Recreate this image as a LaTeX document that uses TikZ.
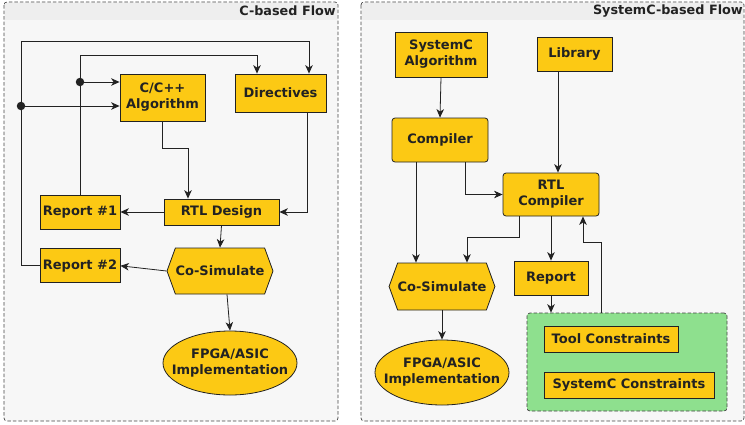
\documentclass[tikz,border=0pt]{standalone}
\usepackage{fontspec}
\setmainfont{DejaVu Sans}
\usepackage{tikz}
\usetikzlibrary{shapes.geometric, shapes.symbols, arrows.meta, positioning}
\definecolor{nodeyellow}{RGB}{252,201,20}
\definecolor{boxgreen}{RGB}{142,224,142}
\definecolor{panelbg}{RGB}{247,247,247}
\definecolor{headbg}{RGB}{238,238,238}
\definecolor{ink}{RGB}{34,34,34}
\tikzstyle{block} = [rectangle, 
			draw=ink, 
			fill=nodeyellow, 
			text centered, 
			align=center, 
			inner sep=0pt, 
			line width=0.8pt, 
			text=ink, 
			font=\fontsize{13}{16}\selectfont\bfseries]
\tikzstyle{rblock} = [block, 
			rounded corners=3pt]
\tikzstyle{hexa} = [block, 
			signal, 
			signal to=east and west, 
			signal pointer angle=140]
\tikzstyle{ellip} = [block, 
			ellipse, 
			inner xsep=-11pt]
\tikzstyle{dot} = [circle, 
			fill=ink, 
			inner sep=0pt, 
			minimum size=8.5pt]
\tikzstyle{line} = [draw=ink, 
			line width=0.8pt]
\tikzstyle{arrow} = [line, 
			-{Stealth[length=8.5pt,width=7.5pt,inset=2.5pt]}]
\tikzstyle{panel} = [draw=ink!85, 
			dash pattern=on 3.5pt off 2pt, 
			fill=panelbg, 
			rounded corners=3pt, 
			line width=0.7pt]
\tikzstyle{title} = [anchor=east, 
			text=ink, 
			inner sep=1pt, 
			font=\fontsize{12.8}{14}\selectfont\bfseries]

\begin{document}
\begin{tikzpicture}[x=1pt, y=-1pt]
	\useasboundingbox (0,0) rectangle (745,424);
	% panels
	\draw [panel] (4,2) rectangle (338,421);
	\fill [headbg] (5,3) rectangle (337,20);
	\node [title] (ctitle) at (337,11) {C-based Flow};
	\draw [panel] (361,2) rectangle (744,421);
	\fill [headbg] (362,3) rectangle (743,20);
	\node [title] (sctitle) at (744,11) {SystemC-based Flow};

	% C-based flow
	\node [block, minimum width=85pt, minimum height=47pt] (calg) at (162.5,97.5) {C/C++\\Algorithm};
	\node [block, minimum width=91pt, minimum height=38pt] (dir) at (280.5,93) {Directives};
	\node [block, minimum width=115pt, minimum height=26pt] (rtl) at (221.5,212) {RTL Design};
	\node [block, minimum width=80pt, minimum height=34pt] (rep1) at (80,212) {Report \#1};
	\node [block, minimum width=80pt, minimum height=34pt, below=19pt of rep1] (rep2) {Report \#2};
	\node [hexa, minimum width=106pt, minimum height=46pt] (csim1) at (220,271) {Co-Simulate};
	\node [ellip, minimum width=134pt, minimum height=64pt] (fpga1) at (230,363) {FPGA/ASIC\\Implementation};
	\node [dot] (dot1) at (21,106) {};
	\node [dot] (dot2) at (80,82) {};

	\draw [arrow] (rep2.west) -| (dot1) |- (21,41) -| ([xshift=28.5pt]dir.north);
	\draw [arrow] (rep1.north) -- (rep1.north |- 0,55) -| ([xshift=-23.5pt]dir.north);
	\draw [arrow] (dot1) -- (calg.west |- dot1);
	\draw [arrow] (dot2) -- (calg.west |- dot2);
	\draw [arrow] (calg.south) -- ++(0,27) -| ([xshift=-33.5pt]rtl.north);
	\draw [arrow] ([xshift=26.5pt]dir.south) |- (rtl.east);
	\draw [arrow] (rtl.west) -- (rep1.east);
	\draw [arrow] (rtl.south) -- (csim1.north);
	\draw [arrow] (csim1.west) -- (rep2.east);
	\draw [arrow] ([xshift=7pt]csim1.south) -- (fpga1.north);

	% SystemC-based flow
	\node [block, minimum width=92pt, minimum height=45pt] (scalg) at (441,54.5) {SystemC\\Algorithm};
	\node [block, minimum width=75pt, minimum height=34pt] (lib) at (574.5,54) {Library};
	\node [rblock, minimum width=96pt, minimum height=44pt] (comp) at (440,140) {Compiler};
	\node [rblock, minimum width=96pt, minimum height=43pt] (rtlc) at (551,194.5) {RTL\\Compiler};
	\node [hexa, minimum width=104pt, minimum height=47pt] (csim2) at (442,286.5) {Co-Simulate};
	\node [block, minimum width=74pt, minimum height=34pt] (rep) at (551,278) {Report};
	\node [ellip, minimum width=134pt, minimum height=65pt] (fpga2) at (442,372.5) {FPGA/ASIC\\Implementation};
	\node [panel, fill=boxgreen, minimum width=200pt, minimum height=98pt] (cbox) at (627,362) {};
	\node [block, minimum width=134pt, minimum height=26pt] (toolc) at (611,339) {Tool Constraints};
	\node [block, minimum width=170pt, minimum height=26pt] (scc) at (629,385) {SystemC Constraints};

	\draw [arrow] (scalg.south) -- (comp.north);
	\draw [arrow] ([xshift=-16.5pt]lib.south) -- ([xshift=-16.5pt]lib.south |- rtlc.north);
	\draw [arrow] ([xshift=25pt]comp.south) |- (rtlc.west);
	\draw [arrow] ([xshift=-24pt]comp.south) -- ([xshift=-24pt]comp.south |- csim2.north);
	\draw [arrow] ([xshift=-32pt]rtlc.south) -- ++(0,21) -| ([xshift=25pt]csim2.north);
	\draw [arrow] (rtlc.south) -- (rep.north);
	\draw [arrow] (rep.south) -- (rep.south |- cbox.north);
	\draw [arrow] ([xshift=-26pt]cbox.north) -- ++(0,-70) -| ([xshift=32pt]rtlc.south);
	\draw [arrow] (csim2.south) -- (fpga2.north);
\end{tikzpicture}
\end{document}
